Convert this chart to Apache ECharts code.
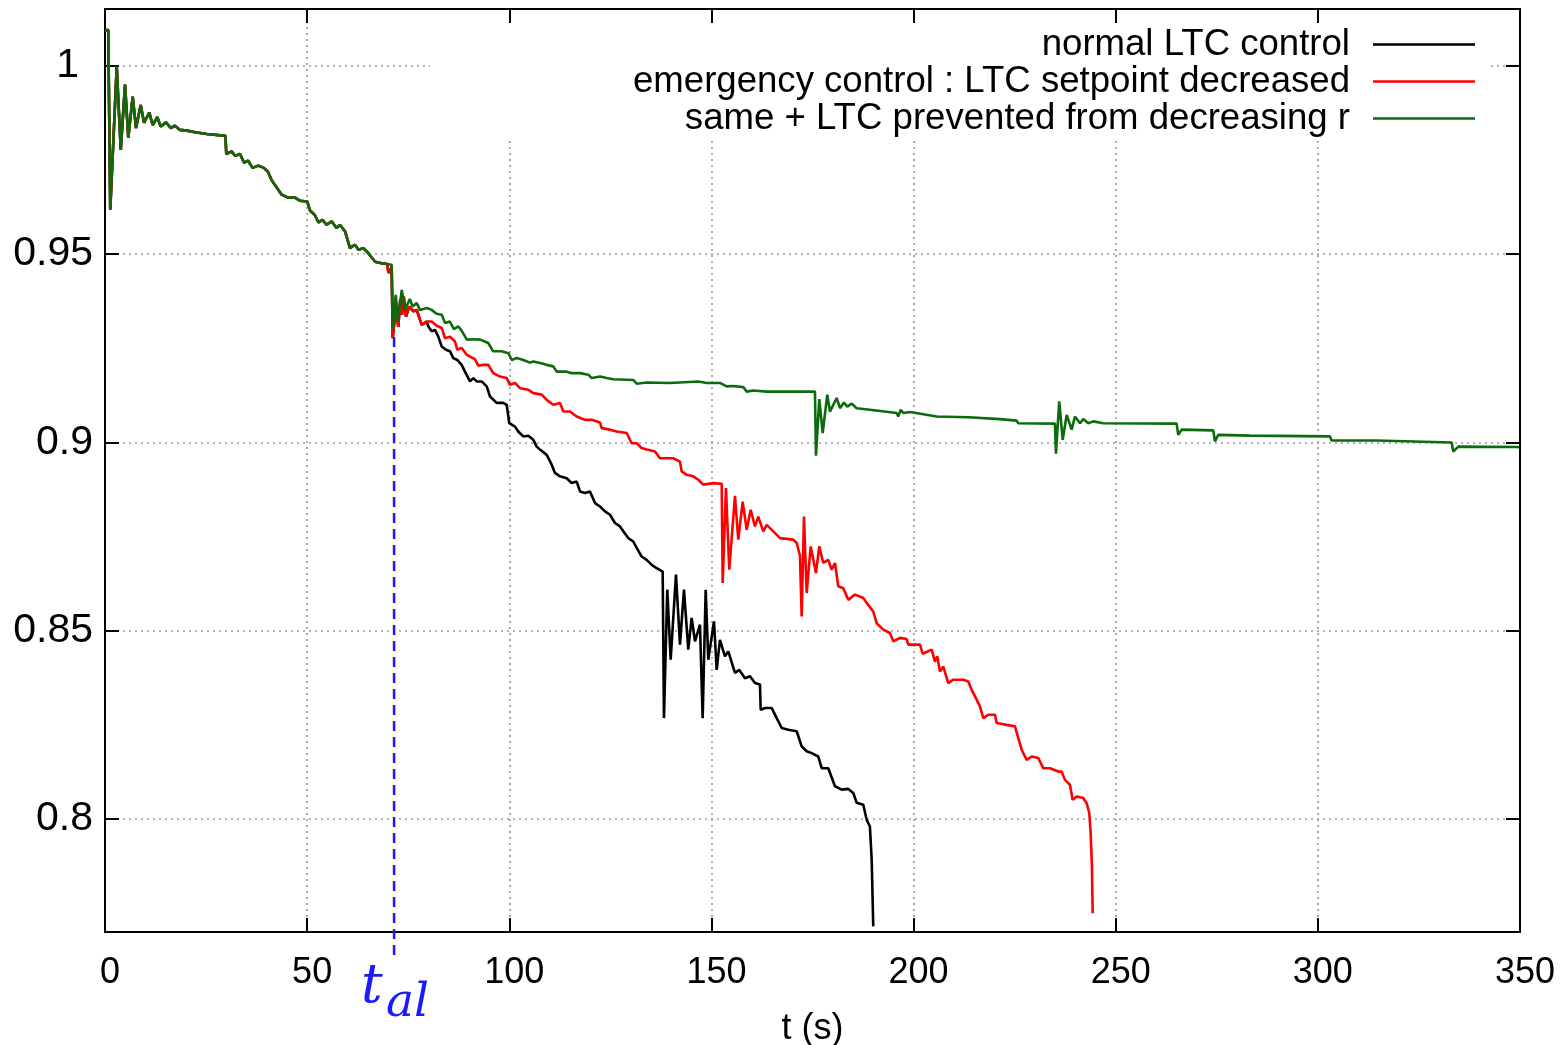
<!DOCTYPE html>
<html>
<head>
<meta charset="utf-8">
<script src="https://cdn.jsdelivr.net/npm/echarts@6/dist/echarts.min.js"></script>
<style>
html, body { margin: 0; padding: 0; background: #fff; }
#chart { width: 1566px; height: 1045px; }
</style>
</head>
<body>
<div id="chart"></div>
<script>
// Legend labels of the three simulated cases
const caseNames = [
  'normal LTC control',
  'emergency control : LTC setpoint decreased',
  'same + LTC prevented from decreasing r'
];

// Common voltage trajectory [t (s), V (pu)] before the alarm
const commonStart = [
  [0, 1.0095], [0.8, 1.0095], [1.3, 0.9618], [2.9, 0.9998], [3.9, 0.9777], [4.95, 0.9950],
  [5.76, 0.9809], [6.85, 0.9918], [7.67, 0.9835], [8.83, 0.9896], [9.65, 0.9849], [10.96, 0.9876],
  [11.8, 0.9843], [12.94, 0.9864], [13.78, 0.9839], [15.1, 0.9850], [16.25, 0.9835], [17.3, 0.9841],
  [18.55, 0.9830], [20.2, 0.9828], [22.7, 0.9823], [25.2, 0.9819], [29.8, 0.9814], [30.0, 0.9766],
  [31.3, 0.9773], [32.2, 0.9761], [33.4, 0.9766], [34.4, 0.9743], [35.4, 0.9748], [36.5, 0.9729],
  [37.9, 0.9735], [39.3, 0.9729], [40.3, 0.9719], [41.2, 0.9697], [42.0, 0.9684], [43.7, 0.9658],
  [45.3, 0.9650], [47.0, 0.9650], [48.2, 0.9642], [50.0, 0.9640], [50.7, 0.9616], [51.9, 0.9604],
  [52.8, 0.9584], [53.8, 0.9591], [54.8, 0.9578], [56.1, 0.9587], [57.3, 0.9569], [58.1, 0.9578],
  [59.4, 0.9560], [60.6, 0.9516], [61.8, 0.9525], [62.7, 0.9512], [63.9, 0.9516], [65.1, 0.9503],
  [66.8, 0.9480], [68.4, 0.9476], [69.8, 0.9474]
];

// Normal LTC control, after the alarm
const normalTail = [
  [70.1, 0.9452], [70.6, 0.9452], [70.9, 0.9470], [71.16, 0.9277], [71.97, 0.9358], [72.54, 0.9307],
  [73.04, 0.9381], [73.46, 0.9339], [73.9, 0.9387], [74.45, 0.9334], [75.27, 0.9361], [76.26, 0.9348],
  [77.1, 0.9352], [78.33, 0.9312], [79.57, 0.9321], [79.97, 0.9308], [80.81, 0.9295], [81.62, 0.9299],
  [82.44, 0.9281], [83.28, 0.9255], [84.34, 0.9246], [85.33, 0.9242], [86.15, 0.9224], [87.14, 0.9219],
  [88.23, 0.9206], [89.04, 0.9188], [90.28, 0.9162], [91.1, 0.9171], [91.94, 0.9162], [93.17, 0.9162],
  [94.41, 0.9149], [95.23, 0.9122], [96.88, 0.9105], [98.52, 0.9105], [99.36, 0.9100], [100.0, 0.9051],
  [101.41, 0.9042], [102.22, 0.9029], [103.46, 0.9016], [104.7, 0.9018], [105.94, 0.9007], [106.78, 0.8989],
  [107.59, 0.8981], [109.25, 0.8967], [110.49, 0.8941], [111.3, 0.8919], [112.54, 0.8910], [114.2, 0.8905],
  [115.43, 0.8892], [116.67, 0.8896], [117.49, 0.8870], [118.72, 0.8866], [119.96, 0.8870], [121.2, 0.8839],
  [122.43, 0.8830], [123.67, 0.8817], [124.91, 0.8808], [126.14, 0.8786], [127.38, 0.8777], [128.2, 0.8764],
  [129.43, 0.8746], [130.67, 0.8737], [131.51, 0.8720], [132.75, 0.8697], [133.98, 0.8688], [135.22, 0.8675],
  [136.46, 0.8666], [137.94, 0.8657], [138.26, 0.8268], [139.08, 0.8609], [139.92, 0.8423], [141.23, 0.8649],
  [142.22, 0.8463], [143.21, 0.8609], [144.27, 0.8450], [145.11, 0.8534], [145.93, 0.8472], [147.17, 0.8516],
  [147.83, 0.8268], [148.58, 0.8609], [149.22, 0.8423], [150.63, 0.8525], [151.3, 0.8396], [152.11, 0.8476],
  [153.35, 0.8432], [154.17, 0.8445], [155.82, 0.8388], [156.89, 0.8396], [158.3, 0.8374], [159.54, 0.8379],
  [160.77, 0.8361], [162.01, 0.8357], [162.18, 0.8290], [163.25, 0.8295], [164.9, 0.8295], [166.14, 0.8268],
  [167.38, 0.8242], [169.01, 0.8237], [171.09, 0.8233], [172.32, 0.8193], [173.56, 0.8180], [174.8, 0.8175],
  [176.43, 0.8166], [177.27, 0.8135], [178.9, 0.8135], [180.56, 0.8087], [182.22, 0.8078], [183.85, 0.8080],
  [185.09, 0.8069], [185.93, 0.8043], [187.56, 0.8038], [188.4, 0.7998], [189.2, 0.7980], [189.64, 0.7892],
  [190.03, 0.7715]
];

// Emergency control (LTC setpoint decreased), after the alarm
const emergencyTail = [
  [70.1, 0.9452], [70.6, 0.9452], [70.9, 0.9470], [71.16, 0.9277], [71.97, 0.9358], [72.54, 0.9307],
  [73.04, 0.9381], [73.46, 0.9339], [73.9, 0.9387], [74.45, 0.9334], [75.27, 0.9361], [76.26, 0.9348],
  [77.1, 0.9352], [78.33, 0.9312], [79.57, 0.9321], [80.81, 0.9321], [82.04, 0.9310], [83.28, 0.9304],
  [84.1, 0.9277], [85.33, 0.9281], [86.57, 0.9268], [87.14, 0.9246], [88.23, 0.9251], [89.46, 0.9233],
  [90.28, 0.9228], [91.52, 0.9221], [92.33, 0.9204], [93.57, 0.9206], [94.81, 0.9206], [96.04, 0.9184],
  [97.7, 0.9175], [99.36, 0.9171], [100.17, 0.9153], [101.41, 0.9158], [102.65, 0.9144], [104.7, 0.9140],
  [105.94, 0.9131], [108.01, 0.9127], [109.25, 0.9113], [110.88, 0.9100], [112.54, 0.9105], [113.36, 0.9082],
  [115.01, 0.9082], [116.67, 0.9069], [118.72, 0.9060], [120.38, 0.9060], [122.43, 0.9053], [122.85, 0.9038],
  [124.91, 0.9034], [126.57, 0.9029], [129.04, 0.9025], [130.27, 0.8998], [131.51, 0.8998], [132.75, 0.8985],
  [133.98, 0.8981], [136.04, 0.8976], [137.27, 0.8958], [140.56, 0.8958], [142.22, 0.8949], [142.64, 0.8923],
  [143.88, 0.8914], [145.51, 0.8910], [146.75, 0.8901], [147.98, 0.8888], [150.46, 0.8892], [152.54, 0.8890],
  [152.78, 0.8627], [153.6, 0.8879], [154.41, 0.8662], [155.82, 0.8858], [156.64, 0.8742], [157.73, 0.8843],
  [158.72, 0.8768], [159.71, 0.8821], [160.77, 0.8777], [161.59, 0.8803], [162.82, 0.8764], [163.67, 0.8781],
  [165.3, 0.8764], [166.96, 0.8746], [170.25, 0.8742], [171.09, 0.8733], [171.9, 0.8699], [172.32, 0.8538],
  [172.89, 0.8803], [173.56, 0.8600], [174.55, 0.8724], [175.86, 0.8653], [176.68, 0.8724], [177.67, 0.8680],
  [178.9, 0.8688], [179.74, 0.8662], [180.56, 0.8680], [181.37, 0.8618], [182.61, 0.8613], [183.85, 0.8582],
  [185.51, 0.8596], [187.56, 0.8587], [188.4, 0.8574], [190.03, 0.8551], [190.87, 0.8520], [192.51, 0.8503],
  [194.16, 0.8494], [194.98, 0.8472], [196.64, 0.8481], [198.29, 0.8478], [198.69, 0.8463], [201.58, 0.8463],
  [202.25, 0.8439], [204.48, 0.8450], [205.29, 0.8418], [205.86, 0.8432], [206.53, 0.8392], [207.35, 0.8405],
  [208.58, 0.8361], [209.82, 0.8370], [212.29, 0.8370], [213.53, 0.8365], [214.37, 0.8343], [215.61, 0.8317],
  [216.42, 0.8299], [217.24, 0.8268], [218.48, 0.8277], [220.13, 0.8277], [220.55, 0.8255], [223.03, 0.8250],
  [225.08, 0.8246], [225.9, 0.8215], [226.74, 0.8184], [227.97, 0.8157], [229.21, 0.8166], [230.84, 0.8162],
  [232.08, 0.8135], [233.73, 0.8135], [235.79, 0.8126], [236.63, 0.8126], [237.45, 0.8104], [238.68, 0.8091],
  [239.35, 0.8051], [240.34, 0.8060], [241.97, 0.8056], [242.81, 0.8042], [243.46, 0.8016], [243.8, 0.7963],
  [244.12, 0.7874], [244.3, 0.7750]
];

// Emergency control with LTC prevented from decreasing r, after the alarm
const preventedTail = [
  [70.9, 0.9472], [71.2, 0.9299], [71.9, 0.9392], [72.5, 0.9321], [73.4, 0.9405], [74.2, 0.9352],
  [75.4, 0.9381], [76.1, 0.9361], [77.1, 0.9370], [77.9, 0.9352], [79.6, 0.9357], [80.8, 0.9352],
  [82.0, 0.9342], [83.3, 0.9339], [84.1, 0.9317], [85.3, 0.9321], [86.3, 0.9301], [87.4, 0.9308],
  [88.2, 0.9297], [89.5, 0.9273], [91.1, 0.9274], [92.8, 0.9273], [94.8, 0.9264], [96.0, 0.9242],
  [98.1, 0.9242], [99.8, 0.9237], [100.59, 0.9219], [101.83, 0.9224], [103.46, 0.9219], [105.12, 0.9212],
  [105.94, 0.9215], [107.59, 0.9211], [109.25, 0.9206], [110.88, 0.9202], [111.72, 0.9188], [114.2, 0.9188],
  [115.43, 0.9184], [117.49, 0.9184], [119.54, 0.9180], [120.38, 0.9171], [122.43, 0.9175], [124.09, 0.9171],
  [125.72, 0.9168], [130.67, 0.9166], [131.51, 0.9156], [133.98, 0.9159], [139.75, 0.9158], [146.75, 0.9162],
  [148.83, 0.9158], [152.12, 0.9158], [153.77, 0.9149], [155.4, 0.9150], [157.88, 0.9147], [158.72, 0.9135],
  [160.35, 0.9138], [163.67, 0.9135], [175.61, 0.9135], [175.86, 0.8965], [176.68, 0.9115], [177.52, 0.9025],
  [178.65, 0.9127], [179.32, 0.9082], [180.98, 0.9118], [181.8, 0.9091], [182.78, 0.9106], [183.6, 0.9095],
  [184.69, 0.9103], [185.93, 0.9091], [189.22, 0.9087], [195.82, 0.9078], [196.22, 0.9069], [196.81, 0.9087],
  [197.45, 0.9078], [199.11, 0.9081], [205.71, 0.9069], [213.53, 0.9067], [213.95, 0.9062], [221.37, 0.9062],
  [225.5, 0.9058], [225.9, 0.9051], [234.97, 0.9050], [235.22, 0.8970], [236.03, 0.9109], [236.88, 0.9007],
  [237.87, 0.9073], [239.1, 0.9034], [239.92, 0.9069], [241.16, 0.9051], [241.97, 0.9062], [243.21, 0.9051],
  [244.45, 0.9056], [246.92, 0.9051], [265.07, 0.9050], [265.47, 0.9020], [266.31, 0.9034], [274.13, 0.9032],
  [274.55, 0.9003], [275.36, 0.9020], [283.21, 0.9018], [302.99, 0.9016], [303.41, 0.9005], [314.54, 0.9005],
  [314.94, 0.9002], [333.1, 0.9000], [333.49, 0.8976], [334.73, 0.8989], [349.17, 0.8988], [350, 0.8987]
];

// Alarm instant t_al and the vertical extent of its marker
const tAlarm = 71.5;
const alarmSpan = [0.9280, 0.7631];

const lineColors = ['#000000', '#ff0000', '#0c6b0c'];
const fontSans = 'Liberation Sans';

const chart = echarts.init(document.getElementById('chart'), null, { renderer: 'canvas' });

const axisLineStyle = { color: '#000', width: 2 };
const tickStyle = { show: true, inside: true, length: 14, lineStyle: { color: '#000', width: 2 } };
const gridDots = { show: true, lineStyle: { color: '#9a9a9a', width: 1.6, type: [2, 4] } };

const fiveHundredths = v => Math.abs(Math.round(v / 0.05) * 0.05 - v) < 1e-6;

const curves = [
  commonStart.concat(normalTail),
  commonStart.concat(emergencyTail),
  commonStart.concat(preventedTail)
];

chart.setOption({
  animation: false,
  backgroundColor: '#ffffff',
  grid: { left: 105, right: 46, top: 9, bottom: 113, containLabel: false, outerBoundsMode: 'none' },
  xAxis: [
    {
      type: 'value', min: 0, max: 350, interval: 50, position: 'bottom',
      name: 't (s)', nameLocation: 'middle', nameGap: 79,
      nameTextStyle: { fontSize: 36, fontFamily: fontSans, color: '#000' },
      axisLine: { show: true, onZero: false, lineStyle: axisLineStyle },
      axisTick: tickStyle,
      axisLabel: { fontSize: 36, fontFamily: fontSans, color: '#000', margin: 23, padding: [0, 0, 0, 10] },
      splitLine: gridDots
    },
    {
      type: 'value', min: 0, max: 350, interval: 50, position: 'top', z: 10,
      axisLine: { show: true, onZero: false, lineStyle: axisLineStyle },
      axisTick: tickStyle,
      axisLabel: { show: false },
      splitLine: { show: false }
    }
  ],
  yAxis: [
    {
      type: 'value', min: 0.77, max: 1.0151, position: 'left',
      axisLine: { show: true, onZero: false, lineStyle: axisLineStyle },
      axisTick: tickStyle,
      axisLabel: {
        fontSize: 41, fontFamily: fontSans, color: '#000', margin: 12,
        formatter: v => {
          if (!fiveHundredths(v)) return '';
          const s = String(+v.toFixed(2));
          return s === '1' ? '{one|1}' : s;
        },
        rich: { one: { fontSize: 41, fontFamily: fontSans, color: '#000', padding: [0, 14, 0, 0] } }
      },
      splitLine: gridDots
    },
    {
      type: 'value', min: 0.77, max: 1.0151, position: 'right', z: 10,
      axisLine: { show: true, onZero: false, lineStyle: axisLineStyle },
      axisTick: tickStyle,
      axisLabel: { show: false },
      splitLine: { show: false }
    }
  ],
  legend: {
    data: caseNames,
    orient: 'vertical',
    align: 'right',
    right: 76,
    top: 9,
    padding: [17, 15, 0, 203],
    itemGap: 0,
    itemWidth: 102,
    itemHeight: 2.5,
    icon: 'rect',
    selectedMode: false,
    backgroundColor: '#ffffff',
    textStyle: { fontSize: 36.6, fontFamily: fontSans, color: '#000', lineHeight: 37, padding: [0, 18, 0, 0] }
  },
  series: caseNames.map((name, i) => ({
    name: name,
    type: 'line',
    data: curves[i],
    symbol: 'none',
    showSymbol: false,
    lineStyle: { color: lineColors[i], width: 2.6 },
    itemStyle: { color: lineColors[i] },
    emphasis: { disabled: true },
    silent: true
  })).concat([{
    name: 't_al',
    type: 'line',
    data: alarmSpan.map(v => [tAlarm, v]),
    symbol: 'none',
    clip: false,
    lineStyle: { color: '#1a1aff', width: 2.5, type: [10, 6] },
    emphasis: { disabled: true },
    silent: true
  }])
});

// Label of the alarm instant under the dashed marker
const foot = chart.convertToPixel({ xAxisIndex: 0, yAxisIndex: 0 }, [tAlarm, alarmSpan[1]]);
chart.setOption({
  graphic: [
    {
      type: 'text', x: foot[0] - 33, y: foot[1] + 3, silent: true,
      style: { text: 't', fill: '#1a1aff', font: 'italic 54px "DejaVu Serif"', align: 'left', verticalAlign: 'top' }
    },
    {
      type: 'text', x: foot[0] - 8, y: foot[1] + 22, silent: true,
      style: { text: 'al', fill: '#1a1aff', font: 'italic 47px "DejaVu Serif"', align: 'left', verticalAlign: 'top' }
    }
  ]
});
</script>
</body>
</html>
